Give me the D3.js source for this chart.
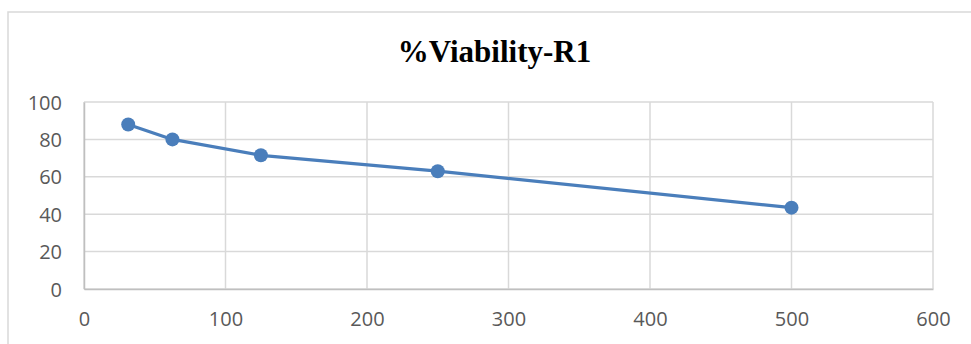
<!DOCTYPE html>
<html>
<head>
<meta charset="utf-8">
<script src="https://cdn.jsdelivr.net/npm/d3@7"></script>
<style>
  html, body { margin: 0; padding: 0; background: #fff; }
  svg { display: block; }
</style>
</head>
<body>
<svg id="chart" width="971" height="344"></svg>
<script>
// Concentration (x) and % viability (y) for replicate R1
const concentrations = [31.25, 62.5, 125, 250, 500];
const viability = [88, 80, 71.5, 63, 43.5];
const xTicks = [0, 100, 200, 300, 400, 500, 600];
const yTicks = [0, 20, 40, 60, 80, 100];
const chartTitle = "%Viability-R1";

const svg = d3.select("#chart");
const plot = { left: 84, right: 933, top: 102, bottom: 289 };

// outer chart frame (runs off the right and bottom edges)
svg.append("rect")
  .attr("x", 8).attr("y", 12)
  .attr("width", 990).attr("height", 360)
  .attr("fill", "#fff")
  .attr("stroke", "#d9d9d9")
  .attr("stroke-width", 1.5);

const x = d3.scaleLinear().domain([0, 600]).range([plot.left, plot.right]);
const y = d3.scaleLinear().domain([0, 100]).range([plot.bottom, plot.top]);

// gridlines
const grid = svg.append("g");
grid.selectAll("line.h").data(yTicks).join("line")
  .attr("x1", plot.left).attr("x2", plot.right)
  .attr("y1", d => y(d)).attr("y2", d => y(d))
  .attr("stroke", "#d9d9d9").attr("stroke-width", 1.5);
grid.selectAll("line.v").data(xTicks).join("line")
  .attr("y1", plot.top).attr("y2", plot.bottom)
  .attr("x1", d => x(d)).attr("x2", d => x(d))
  .attr("stroke", "#d9d9d9").attr("stroke-width", 1.5);

// axes
const xAxis = d3.axisBottom(x).tickValues(xTicks).tickSize(0).tickPadding(23);
const yAxis = d3.axisLeft(y).tickValues(yTicks).tickSize(0).tickPadding(22);

const gx = svg.append("g").attr("transform", `translate(0,${plot.bottom})`).call(xAxis);
const gy = svg.append("g").attr("transform", `translate(${plot.left},0)`).call(yAxis);

[gx, gy].forEach(g => {
  g.select(".domain").attr("stroke", "#bfbfbf").attr("stroke-width", 1.5);
  g.selectAll("text")
    .attr("fill", "#595959")
    .style("font-family", "'Open Sans', 'Noto Sans', sans-serif")
    .style("font-size", "20px");
});
gx.selectAll("text").attr("dy", "0.68em");
gy.selectAll("text").attr("dy", "0.35em");

// data line and markers
const pts = concentrations.map((c, i) => [c, viability[i]]);
const line = d3.line().x(d => x(d[0])).y(d => y(d[1]));

svg.append("path")
  .datum(pts)
  .attr("d", line)
  .attr("fill", "none")
  .attr("stroke", "#4a7ebb")
  .attr("stroke-width", 3.2)
  .attr("stroke-linejoin", "round");

svg.append("g").selectAll("circle").data(pts).join("circle")
  .attr("cx", d => x(d[0]))
  .attr("cy", d => y(d[1]))
  .attr("r", 7)
  .attr("fill", "#4a7ebb");

// title
svg.append("text")
  .attr("x", 494.5).attr("y", 62)
  .attr("text-anchor", "middle")
  .attr("fill", "#000")
  .style("font-family", "'Liberation Serif', 'Times New Roman', serif")
  .style("font-weight", "bold")
  .style("font-size", "31px")
  .text(chartTitle);
</script>
</body>
</html>
